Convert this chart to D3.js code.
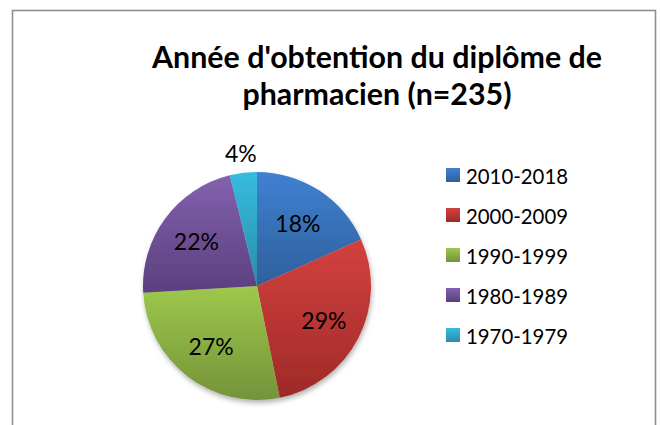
<!DOCTYPE html>
<html>
<head>
	<meta charset="utf-8">
	<title>Année d'obtention du diplôme de pharmacien</title>
	<script src="https://cdn.jsdelivr.net/npm/d3@7"></script>
	<style type="text/css">
		body{ margin:0; background:#fff; }
		.pie-chart text{ font-family: Lato, "Open Sans", sans-serif; fill:#000; }
	</style>
</head>
<body>

	<svg width=660 height=425 class="pie-chart"></svg>
	<script type="text/javascript">

		// values (n = 235)
		categories = ['2010-2018', '2000-2009', '1990-1999', '1980-1989', '1970-1979']
		counts = [43, 67, 64, 52, 9]
		colorsLight = ['#3f81d1', '#d3413e', '#9ec84c', '#8361ae', '#36bce0']
		colorsDark = ['#2f5f9c', '#9f2a28', '#74933a', '#5b3f7f', '#2a8ca8']
		titleLines = ["Année d'obtention du diplôme de", 'pharmacien (n=235)']

		svg = d3.select('.pie-chart')
		total = d3.sum(counts)
		pct = d3.format('.0%')

		center = {'x':257, 'y':286}
		radius = 114

		defs = svg.append('defs')

		defs.selectAll('linearGradient')
			.data(categories)
			.enter()
			.append('linearGradient')
			.attr('id', function(d, i){ return 'grad' + i })
			.attr('x1', 0).attr('y1', 0).attr('x2', 0).attr('y2', 1)
			.each(function(d, i){
				d3.select(this).append('stop').attr('offset', '0%').attr('stop-color', colorsLight[i])
				d3.select(this).append('stop').attr('offset', '100%').attr('stop-color', colorsDark[i])
			})

		shadow = defs.append('filter')
			.attr('id', 'shadow')
			.attr('x', '-20%').attr('y', '-20%').attr('width', '140%').attr('height', '140%')
		shadow.append('feDropShadow')
			.attr('dx', 1).attr('dy', 3)
			.attr('stdDeviation', 2.5)
			.attr('flood-color', '#000')
			.attr('flood-opacity', 0.3)

		// chart frame (bottom edge runs off the picture)
		svg.append('rect')
			.attr('x', 12.5).attr('y', 10.5)
			.attr('width', 643).attr('height', 480)
			.attr('fill', 'none')
			.attr('stroke', '#8e8e8e')
			.attr('stroke-width', 1.6)

		// title
		titleSizes = [450, 269]
		svg.append('g')
			.selectAll('text')
			.data(titleLines)
			.enter()
			.append('text')
			.attr('x', 377)
			.attr('y', function(d, i){ return 68 + i * 37 })
			.attr('text-anchor', 'middle')
			.attr('font-size', 30)
			.attr('font-weight', 'bold')
			.attr('textLength', function(d, i){ return titleSizes[i] })
			.attr('lengthAdjust', 'spacingAndGlyphs')
			.text(function(d){ return d })

		// pie
		pie = d3.pie().sort(null).value(function(d){ return d })
		arcs = pie(counts)

		arc = d3.arc().innerRadius(0).outerRadius(radius)
		labelArc = d3.arc().innerRadius(radius * 0.66).outerRadius(radius * 0.66)
		outerArc = d3.arc().innerRadius(radius + 20).outerRadius(radius + 20)

		gPie = svg.append('g')
			.attr('transform', 'translate(' + center.x + ',' + center.y + ')')

		gPie.append('g')
			.attr('filter', 'url(#shadow)')
			.selectAll('path')
			.data(arcs)
			.enter()
			.append('path')
			.attr('d', arc)
			.attr('fill', function(d, i){ return 'url(#grad' + i + ')' })

		gPie.append('g')
			.selectAll('text')
			.data(arcs)
			.enter()
			.append('text')
			.attr('transform', function(d){
				c = (d.value / total < 0.05) ? outerArc.centroid(d) : labelArc.centroid(d)
				return 'translate(' + c[0] + ',' + c[1] + ')'
			})
			.attr('text-anchor', 'middle')
			.attr('dominant-baseline', 'central')
			.attr('font-size', 23)
			.text(function(d){ return pct(d.value / total) })

		// legend
		legendY = d3.scalePoint()
			.domain(categories)
			.range([175, 335])

		legend = svg.append('g')
			.selectAll('g')
			.data(categories)
			.enter()
			.append('g')
			.attr('transform', function(d){ return 'translate(446,' + legendY(d) + ')' })

		legend.append('rect')
			.attr('x', 0).attr('y', -7)
			.attr('width', 14).attr('height', 14)
			.attr('fill', function(d, i){ return 'url(#grad' + i + ')' })

		legend.append('text')
			.attr('x', 20)
			.attr('y', 0)
			.attr('dominant-baseline', 'central')
			.attr('font-size', 22)
			.attr('textLength', 102)
			.attr('lengthAdjust', 'spacingAndGlyphs')
			.text(function(d){ return d })

	</script>

</body>
</html>
